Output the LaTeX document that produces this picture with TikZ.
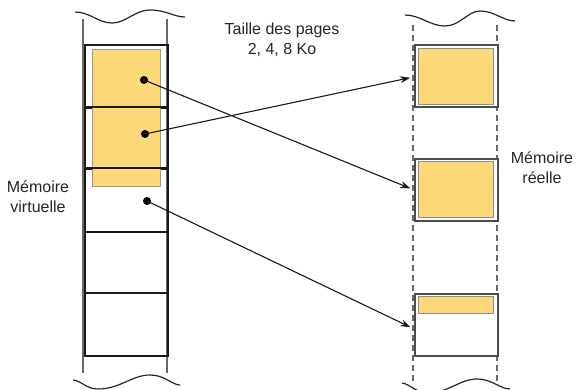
\documentclass[tikz,border=0pt]{standalone}
\usepackage{fontspec}
\setmainfont{Liberation Sans}
\usetikzlibrary{arrows.meta}
\definecolor{pageyellow}{RGB}{252,216,120}
\definecolor{colgray}{RGB}{105,105,105}
\tikzset{
  colline/.style={draw=colgray, line width=1.7pt},
  dashcol/.style={draw=colgray, line width=1.5pt, dash pattern=on 6pt off 4pt},
  wave/.style={draw=black!85, line width=1.2pt},
  pagebox/.style={draw=black!90, line width=1.8pt},
  framebox/.style={draw=black!70, line width=1.8pt, fill=white},
  filled/.style={fill=pageyellow, draw=black!45, line width=0.8pt},
  dot/.style={circle, fill=black, inner sep=0pt, minimum size=8pt},
  link/.style={draw=black!90, line width=1.1pt, -{Stealth[length=10pt,width=7pt]}, shorten >=4pt},
  label/.style={font=\fontsize{16}{20}\selectfont, align=center, text=black!85}
}
\begin{document}
\begin{tikzpicture}[x=1pt, y=-1pt]
\useasboundingbox (0,0) rectangle (579,390);

% ---- virtual memory column ----
\draw[colline] (83,19) -- (83,373);
\draw[colline] (167,19) -- (167,373);
\draw[wave] (75,12) .. controls (90,12) and (98,23) .. (112,23)
  .. controls (126,23) and (135,10) .. (150,10)
  .. controls (166,10) and (174,17) .. (185,17);
\draw[wave] (73,380) .. controls (82,381) and (86,389) .. (98,389)
  .. controls (120,389) and (132,375) .. (150,375)
  .. controls (165,375) and (172,385) .. (180,385);

% pages
\node[pagebox, minimum width=83pt, minimum height=63pt, inner sep=0pt, anchor=north west] (v1) at (84,44) {};
\node[pagebox, minimum width=83pt, minimum height=61pt, inner sep=0pt, anchor=north west] (v2) at (84,107) {};
\node[pagebox, minimum width=83pt, minimum height=63pt, inner sep=0pt, anchor=north west] (v3) at (84,168) {};
\node[pagebox, minimum width=83pt, minimum height=61pt, inner sep=0pt, anchor=north west] (v4) at (84,231) {};
\node[pagebox, minimum width=83pt, minimum height=63pt, inner sep=0pt, anchor=north west] (v5) at (84,292) {};
% occupied area of the process
\fill[pageyellow] (92,49) rectangle (160,186);
\draw[black!40, line width=0.8pt] (92,49) rectangle (160,186);
\draw[pagebox] (84,107) -- (167,107);
\draw[pagebox] (84,168) -- (167,168);

\node[dot] (d1) at (144,80) {};
\node[dot] (d2) at (145,134) {};
\node[dot] (d3) at (147,201) {};

% ---- physical memory column ----
\draw[dashcol] (413,25) -- (413,383);
\draw[dashcol] (497,25) -- (497,383);
\draw[wave] (405,15) .. controls (420,15) and (430,26) .. (445,26)
  .. controls (460,26) and (468,11) .. (480,11)
  .. controls (495,11) and (503,21) .. (515,21);
\draw[wave] (402,383) .. controls (410,384) and (416,393) .. (428,393)
  .. controls (448,393) and (460,379) .. (477,379)
  .. controls (492,379) and (500,389) .. (510,389);

\node[framebox, minimum width=83pt, minimum height=62pt, inner sep=0pt, anchor=north west] (r1) at (414,44) {};
\fill[filled] (418,48) rectangle (493,104);
\node[framebox, minimum width=83pt, minimum height=62pt, inner sep=0pt, anchor=north west] (r2) at (414,158) {};
\fill[filled] (418,161) rectangle (493,217);
\node[framebox, minimum width=83pt, minimum height=62pt, inner sep=0pt, anchor=north west] (r3) at (414,293) {};
\fill[filled] (418,296) rectangle (493,313);

% ---- mappings ----
\draw[link] (d1.center) -- (r2.west);
\draw[link] (d2.center) -- ([yshift=-1pt]r1.west);
\draw[link] (d3.center) -- ([yshift=-4pt]r3.west);

% ---- labels ----
\node[label] (tp) at (282,40) {Taille des pages\\2, 4, 8 Ko};
\node[label] (mv) at (38,197) {Mémoire\\virtuelle};
\node[label] (mr) at (542,168) {Mémoire\\réelle};
\end{tikzpicture}
\end{document}
